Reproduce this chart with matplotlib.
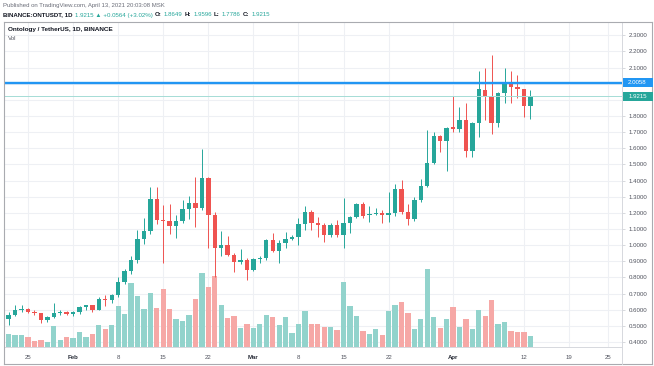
import numpy as np
import pandas as pd
import matplotlib
matplotlib.use("Agg")
import matplotlib.pyplot as plt
import matplotlib.dates as mdates
from matplotlib.lines import Line2D
from matplotlib.patches import Rectangle

# ---------------- data ----------------
dates = pd.date_range("2021-01-21", "2021-04-13", freq="D")

opens = [0.640, 0.545, 0.567, 0.598, 0.606, 0.585, 0.577, 0.536, 0.556, 0.577, 0.587,
         0.576, 0.588, 0.616, 0.626, 0.600, 0.669, 0.657, 0.688, 0.770, 0.840, 0.905, 1.036, 1.087,
         1.288, 1.158, 1.152, 1.120, 1.150, 1.226, 1.263, 1.228, 1.414, 1.187, 0.980, 1.000, 0.938,
         0.893, 0.905,
         0.846, 0.912, 0.920, 1.032, 0.965, 1.015, 1.037, 1.050, 1.132, 1.207, 1.135, 1.127, 1.063,
         1.127, 1.063, 1.135, 1.177, 1.255, 1.185, 1.195, 1.200, 1.185, 1.197, 1.346, 1.207, 1.160,
         1.280, 1.369, 1.511, 1.676, 1.645,
         1.730, 1.718, 1.776, 1.585, 1.755, 1.961, 1.920, 1.755, 1.940, 2.005, 1.982, 1.967, 1.8649]
highs = [0.650, 0.585, 0.630, 0.630, 0.612, 0.595, 0.582, 0.562, 0.640, 0.595, 0.592,
         0.590, 0.625, 0.632, 0.632, 0.680, 0.690, 0.700, 0.800, 0.850, 0.930, 1.095, 1.165, 1.358,
         1.362, 1.248, 1.255, 1.187, 1.280, 1.305, 1.424, 1.594, 1.420, 1.208, 1.090, 1.056, 0.953,
         0.974, 0.920,
         0.920, 0.930, 1.040, 1.073, 1.030, 1.083, 1.063, 1.166, 1.240, 1.218, 1.177, 1.135, 1.135,
         1.156, 1.290, 1.180, 1.260, 1.270, 1.240, 1.228, 1.220, 1.330, 1.378, 1.404, 1.253, 1.300,
         1.408, 1.714, 1.700, 1.680, 1.730,
         1.924, 1.854, 1.879, 1.760, 2.079, 2.095, 2.178, 1.950, 2.095, 2.081, 2.054, 1.970, 1.9596]
lows = [0.540, 0.505, 0.560, 0.588, 0.578, 0.565, 0.515, 0.525, 0.550, 0.567, 0.567,
        0.560, 0.575, 0.600, 0.587, 0.598, 0.625, 0.640, 0.680, 0.760, 0.820, 0.890, 1.010, 1.070,
        1.133, 0.887, 1.070, 1.042, 1.140, 1.160, 1.114, 1.220, 0.980, 0.805, 0.930, 0.930, 0.835,
        0.885, 0.784,
        0.840, 0.890, 0.910, 0.955, 0.887, 0.980, 1.030, 1.000, 1.094, 1.094, 1.053, 1.022, 1.050,
        1.050, 0.980, 1.073, 1.170, 1.170, 1.145, 1.185, 1.135, 1.145, 1.180, 1.190, 1.125, 1.150,
        1.270, 1.360, 1.500, 1.579, 1.459,
        1.700, 1.700, 1.544, 1.548, 1.672, 1.776, 1.689, 1.730, 1.879, 1.879, 1.910, 1.796, 1.7786]
closes = [0.550, 0.567, 0.598, 0.606, 0.585, 0.577, 0.538, 0.556, 0.577, 0.587, 0.576,
          0.588, 0.616, 0.626, 0.600, 0.667, 0.660, 0.688, 0.770, 0.840, 0.905, 1.036, 1.087, 1.288,
          1.158, 1.150, 1.120, 1.150, 1.226, 1.263, 1.228, 1.414, 1.187, 0.980, 1.000, 0.936, 0.893,
          0.905, 0.846,
          0.912, 0.922, 1.032, 0.965, 1.015, 1.040, 1.050, 1.132, 1.207, 1.135, 1.127, 1.063, 1.127,
          1.060, 1.135, 1.177, 1.255, 1.180, 1.195, 1.200, 1.185, 1.197, 1.346, 1.207, 1.160, 1.280,
          1.369, 1.511, 1.676, 1.645, 1.728,
          1.718, 1.776, 1.585, 1.755, 1.965, 1.920, 1.755, 1.940, 2.003, 1.982, 1.967, 1.865, 1.9215]
volumes = [10.0, 12.7, 11.7, 12.3, 9.7, 6.3, 6.7, 4.7, 20.7, 7.3, 10.3,
           9.3, 15.0, 9.7, 13.3, 22.3, 17.7, 21.7, 41.0, 33.0, 64.3, 51.0, 38.0, 54.3,
           39.3, 58.3, 37.7, 28.3, 26.3, 31.7, 48.3, 74.3, 60.3, 71.0, 41.7, 29.3, 31.0,
           18.7, 22.7,
           18.7, 23.0, 31.7, 29.7, 21.7, 29.7, 13.7, 23.0, 35.7, 23.0, 23.0, 20.3, 19.7,
           17.0, 64.7, 41.3, 31.3, 16.0, 13.0, 17.7, 12.0, 36.3, 41.7, 45.0, 33.7, 18.3,
           28.3, 77.7, 30.3, 19.3, 27.7,
           40.3, 19.7, 28.3, 18.3, 36.7, 31.3, 47.3, 23.0, 25.3, 16.3, 14.7, 14.7, 11.0]

resistance = 2.0058
last_price = 1.9215

price_ticks = [0.4, 0.5, 0.6, 0.7, 0.8, 0.9, 1.0, 1.1, 1.2, 1.3, 1.4, 1.5, 1.6, 1.7, 1.8,
               1.9, 2.0, 2.1, 2.2, 2.3]
hidden_price_labels = [1.9, 2.0]
date_ticks = ["2021-01-25", "2021-02-01", "2021-02-08", "2021-02-15", "2021-02-22",
              "2021-03-01", "2021-03-08", "2021-03-15", "2021-03-22", "2021-04-01",
              "2021-04-12", "2021-04-19", "2021-04-25"]
date_labels = ["25", "Feb", "8", "15", "22", "Mar", "8", "15", "22", "Apr", "12", "19", "25"]

title_line = "Ontology / TetherUS, 1D, BINANCE"
published = "Published on TradingView.com, April 13, 2021 20:03:08 MSK"

# ---------------- styling ----------------
GREEN = "#26a69a"
RED = "#ef5350"
VGREEN = "#92d3cc"
VRED = "#f6a8a6"
BLUE = "#2196f3"
TXT = "#131722"
GRAY = "#50535e"
GRID = "#eef0f4"
FONT = ["Liberation Sans", "DejaVu Sans"]
plt.rcParams["font.family"] = FONT

W, H = 654, 366
fig = plt.figure(figsize=(W / 100, H / 100), dpi=100)
fig.patch.set_facecolor("white")

def fx(px):
    return px / W

def fy(py):
    return 1 - py / H

PL, PR, PT, PB = 4, 622, 22, 347
rect = [fx(PL), fy(PB), (PR - PL) / W, (PB - PT) / H]

# pixel calibration of the price scale: y = 35.3 + (2.3 - p) * 161.4
ppx = 161.4
ymax = 2.3 + (35.3 - PT) / ppx
ymin = 2.3 - (PB - 35.3) / ppx

t0 = mdates.date2num(pd.Timestamp("2021-01-25"))
dpx = 6.44
xmin = t0 + (PL - 28) / dpx
xmax = t0 + (PR - 28) / dpx

x = mdates.date2num(dates)
o = np.array(opens); h = np.array(highs); l = np.array(lows); c = np.array(closes)
v = np.array(volumes)
up = c >= o

# grid axes (bottom layer)
axg = fig.add_axes(rect, zorder=0)
axg.set_xlim(xmin, xmax)
axg.set_ylim(ymin, ymax)
for p in price_ticks:
    axg.axhline(p, color=GRID, lw=0.8, zorder=0)
tick_nums = mdates.date2num(pd.to_datetime(date_ticks))
for t in tick_nums:
    axg.axvline(t, color=GRID, lw=0.8, zorder=0)
axg.yaxis.tick_right()
shown = [p for p in price_ticks if p not in hidden_price_labels]
axg.set_yticks(shown)
axg.set_yticklabels([f"{p:.4f}" for p in shown])
axg.tick_params(axis="y", length=2, width=0.5, color="#c8cad0", pad=3,
                labelsize=4.4, labelcolor=GRAY)
axg.set_xticks(tick_nums)
axg.set_xticklabels(date_labels)
axg.tick_params(axis="x", length=0, pad=6, labelsize=4.4, labelcolor=GRAY)
for lab, txt in zip(axg.get_xticklabels(), date_labels):
    if txt in ("Feb", "Mar", "Apr"):
        lab.set_fontweight("bold")
        lab.set_color("#2a2e39")
for s in ["left", "top"]:
    axg.spines[s].set_visible(False)
axg.spines["bottom"].set_color("#d6d8dd")
axg.spines["bottom"].set_linewidth(0.7)
axg.spines["right"].set_color("#d6d8dd")
axg.spines["right"].set_linewidth(0.7)

# volume axes (middle layer)
axv = fig.add_axes(rect, zorder=1, sharex=axg)
axv.patch.set_visible(False)
axv.set_ylim(0, PB - PT)
axv.bar(x, v, width=0.82, color=np.where(up, VGREEN, VRED), linewidth=0)
axv.axis("off")

# candle axes (top layer)
axc = fig.add_axes(rect, zorder=2, sharex=axg)
axc.patch.set_visible(False)
axc.set_ylim(ymin, ymax)
cols = np.where(up, GREEN, RED)
axc.vlines(x, l, h, colors=cols, linewidth=0.7)
body_lo = np.minimum(o, c)
body_h = np.maximum(np.abs(c - o), 0.005)
axc.bar(x, body_h, bottom=body_lo, width=0.68, color=cols, linewidth=0)
axc.axhline(resistance, color=BLUE, lw=1.7)
axc.axhline(last_price, color="#a5dcd6", lw=0.7)
axc.axis("off")
axc.set_xlim(xmin, xmax)

# right-hand price boxes
for val, col in [(resistance, BLUE), (last_price, GREEN)]:
    yc = 35.3 + (2.3 - val) * ppx
    fig.patches.append(Rectangle((fx(PR + 0.5), fy(yc + 4.5)), 30 / W, 9 / H,
                                 transform=fig.transFigure, facecolor=col,
                                 edgecolor="none", zorder=5))
    fig.text(fx(PR + 15.5), fy(yc), f"{val:.4f}", color="white", fontsize=4.4,
             ha="center", va="center", zorder=6)

# outer frame
fr = "#a9abb0"
fig.lines.append(Line2D([fx(PL), fx(652)], [fy(PT), fy(PT)], color=fr, lw=0.8,
                        transform=fig.transFigure))
fig.lines.append(Line2D([fx(PL), fx(PL)], [fy(PT), fy(364)], color=fr, lw=0.8,
                        transform=fig.transFigure))
fig.lines.append(Line2D([fx(PL), fx(652)], [fy(364), fy(364)], color=fr, lw=0.8,
                        transform=fig.transFigure))
fig.lines.append(Line2D([fx(652), fx(652)], [fy(PT), fy(364)], color=fr, lw=0.8,
                        transform=fig.transFigure))
fig.lines.append(Line2D([fx(PR), fx(PR)], [fy(PB), fy(364)], color="#d6d8dd", lw=0.7,
                        transform=fig.transFigure))

# texts
fig.text(fx(8), fy(30), title_line, color=TXT, fontsize=4.6, va="center",
         fontweight="bold")
fig.text(fx(8), fy(39), "Vol", color=GRAY, fontsize=4.4, va="center")
fig.text(fx(3), fy(6), published, color="#6a6d78", fontsize=4.3, va="center")

segments = [("BINANCE:ONTUSDT, 1D", TXT, "bold"),
            ("1.9215 \u25b2 +0.0564 (+3.02%)", GREEN, "normal"),
            ("O:", TXT, "bold"), ("1.8649", GREEN, "normal"),
            ("H:", TXT, "bold"), ("1.9596", GREEN, "normal"),
            ("L:", TXT, "bold"), ("1.7786", GREEN, "normal"),
            ("C:", TXT, "bold"), ("1.9215", GREEN, "normal")]
renderer = fig.canvas.get_renderer()
cur = 3.0
for txt, col, wt in segments:
    t = fig.text(fx(cur), fy(15), txt, color=col, fontsize=4.4, va="center",
                 fontweight=wt)
    bb = t.get_window_extent(renderer=renderer)
    cur += bb.width + 2.2

fig.savefig("out.png", dpi=100, facecolor="white")
